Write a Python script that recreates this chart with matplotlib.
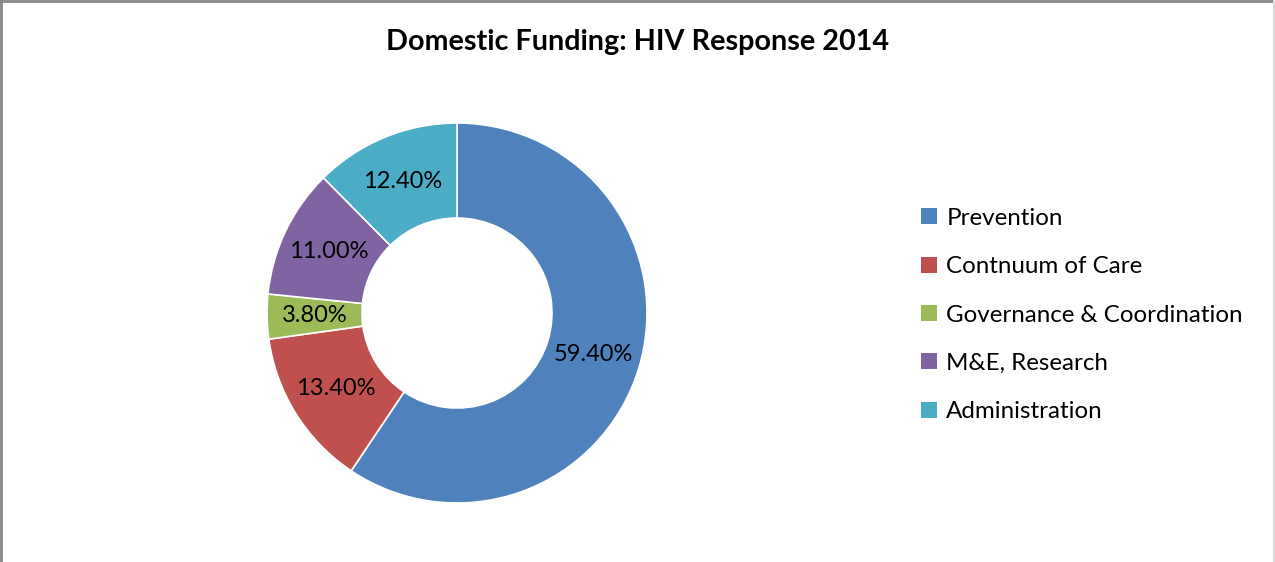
import matplotlib
matplotlib.use("Agg")
import matplotlib.pyplot as plt
from matplotlib.patches import Patch
from matplotlib.lines import Line2D
import numpy as np

categories = ["Prevention", "Contnuum of Care", "Governance & Coordination", "M&E, Research", "Administration"]
values = [59.4, 13.4, 3.8, 11.0, 12.4]
labels = ["59.40%", "13.40%", "3.80%", "11.00%", "12.40%"]
colors = ["#4F81BD", "#C0504D", "#9BBB59", "#8064A2", "#4BACC6"]

plt.rcParams['font.family'] = ['Lato', 'DejaVu Sans']

W, H = 1275, 562
fig = plt.figure(figsize=(W/100, H/100), dpi=100)
fig.patch.set_facecolor("white")

cx, cy, r = 457, 313, 190
ax = fig.add_axes([(cx - r)/W, (H - cy - r)/H, 2*r/W, 2*r/H])
wedges, _ = ax.pie(values, colors=colors, startangle=90, counterclock=False,
                   radius=1.0, wedgeprops=dict(width=0.5, edgecolor="white", linewidth=1.2))
theta = 90.0
for v, lab in zip(values, labels):
    mid = np.deg2rad(theta - v/100*360/2)
    theta -= v/100*360
    ax.text(0.75*np.cos(mid), 0.75*np.sin(mid), lab, ha="center", va="center",
            fontsize=17, color="black")
ax.set_xlim(-1, 1); ax.set_ylim(-1, 1)
ax.set_aspect("equal")
ax.axis("off")

fig.text(637/W, 1 - 42/H, "Domestic Funding: HIV Response 2014", ha="center", va="center",
         fontsize=20.7, fontweight="bold")

handles = [Patch(facecolor=c, edgecolor="none") for c in colors]
leg = fig.legend(handles, categories, loc="center left", bbox_to_anchor=(921/W, 1 - 315/H),
                 frameon=False, fontsize=17.4, handlelength=0.65, handleheight=0.65,
                 handletextpad=0.4, labelspacing=1.13, borderaxespad=0, borderpad=0)

# figure border (top/left gray, right faint)
fig.add_artist(Line2D([0, 1], [1 - 1/H, 1 - 1/H], transform=fig.transFigure, color="#878787", lw=2))
fig.add_artist(Line2D([1/W, 1/W], [0, 1], transform=fig.transFigure, color="#878787", lw=2))
fig.add_artist(Line2D([1 - 1/W, 1 - 1/W], [0, 1], transform=fig.transFigure, color="#dddddd", lw=1.5))

fig.savefig("out.png", dpi=100, facecolor="white")
